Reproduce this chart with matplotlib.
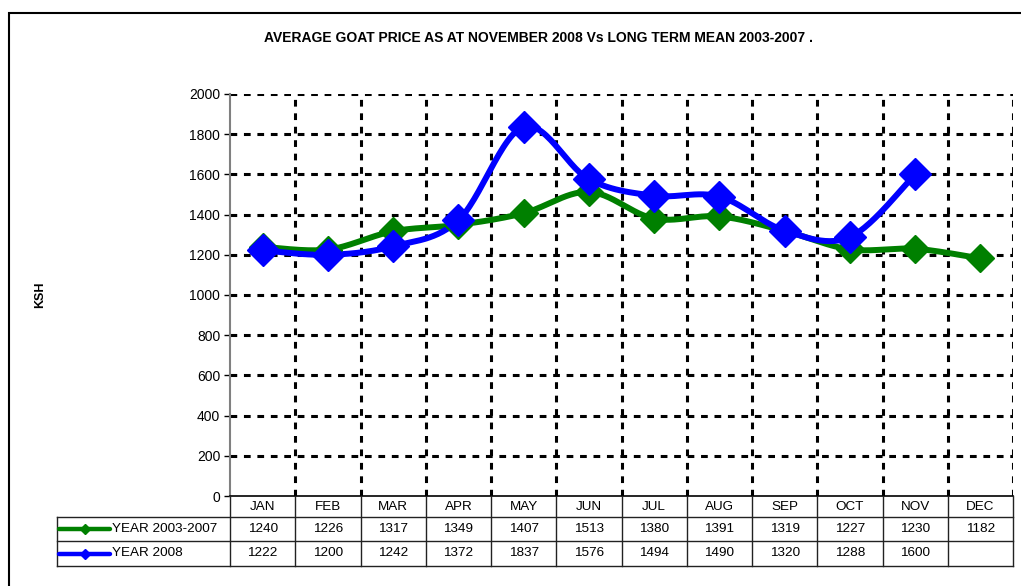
import matplotlib as mpl
mpl.use('Agg')
import matplotlib.pyplot as plt
import matplotlib.patches as mpatches
from matplotlib.lines import Line2D
import numpy as np

plt.rcParams['font.family'] = ['Liberation Sans', 'DejaVu Sans']

# ---------------------------------------------------------------- data
months    = ['JAN', 'FEB', 'MAR', 'APR', 'MAY', 'JUN', 'JUL', 'AUG', 'SEP', 'OCT', 'NOV', 'DEC']
mean_0307 = [1240, 1226, 1317, 1349, 1407, 1513, 1380, 1391, 1319, 1227, 1230, 1182]
year_2008 = [1222, 1200, 1242, 1372, 1837, 1576, 1494, 1490, 1320, 1288, 1600]
series_names  = ['YEAR 2003-2007', 'YEAR 2008']
series_colors = ['#008000', '#0000FF']
yticks = list(range(0, 2001, 200))

W, H = 1021, 586
def fx(px): return px / W
def fy(py): return 1 - py / H

#--------------------------------------------------------------------------------------------------
def smooth(xs, ys, sx, sy, n=30):
    # excel-like smoothed line (catmull-rom drawn as bezier), done in screen-ish units
    p = np.column_stack([np.asarray(xs, float) * sx, np.asarray(ys, float) * sy])
    out = [p[0]]
    for i in range(len(p) - 1):
        p0 = p[i - 1] if i > 0 else p[i]
        p1, p2 = p[i], p[i + 1]
        p3 = p[i + 2] if i + 2 < len(p) else p[i + 1]
        c1 = p1 + (p2 - p0) / 6.0
        c2 = p2 - (p3 - p1) / 6.0
        t = np.linspace(0, 1, n)[1:, None]
        seg = (1 - t)**3 * p1 + 3 * (1 - t)**2 * t * c1 + 3 * (1 - t) * t**2 * c2 + t**3 * p2
        out.extend(seg)
    out = np.array(out)
    return out[:, 0] / sx, out[:, 1] / sy

#--------------------------------------------------------------------------------------------------
fig = plt.figure(figsize=(W / 100, H / 100), dpi=100)
ax_l, ax_r, ax_t, ax_b = 230, 1013, 94, 496
ax = fig.add_axes([fx(ax_l), fy(ax_b), fx(ax_r - ax_l), fy(ax_t) - fy(ax_b)])

ax.set_xlim(0, 12)
ax.set_ylim(0, 2000)
ax.set_yticks(yticks)
ax.set_xticks(range(1, 13))
ax.tick_params(axis='x', length=0, labelbottom=False)
ax.tick_params(axis='y', length=4, width=1, direction='out', labelsize=10, pad=3, colors='black')
for s in ['top', 'right']:
    ax.spines[s].set_visible(False)
ax.spines['left'].set_color('#808080')
ax.spines['left'].set_linewidth(1.5)
ax.spines['bottom'].set_color('black')
ax.spines['bottom'].set_linewidth(1.2)

grid_kw = dict(color='black', linewidth=2.2, dashes=(2.2, 2.2), zorder=1)
for yv in yticks[1:]:
    ax.axhline(yv, **grid_kw)
for xv in range(1, 13):
    ax.axvline(xv, **grid_kw)

sx, sy = 783 / 12.0, 402 / 2000.0
for vals, col, ms in [(mean_0307, series_colors[0], 14), (year_2008, series_colors[1], 16)]:
    xs = np.arange(len(vals)) + 0.5
    cx, cy = smooth(xs, vals, sx, sy)
    ax.plot(cx, cy, color=col, linewidth=4.3, zorder=3, solid_capstyle='round')
    ax.plot(xs, vals, linestyle='none', marker='D', markersize=ms, color=col, zorder=4)

ax.set_ylabel('')
fig.text(fx(40), fy(295), 'KSH', rotation=90, ha='center', va='center', fontsize=9, fontweight='bold')
fig.text(fx(538), fy(38), 'AVERAGE GOAT PRICE AS AT NOVEMBER 2008 Vs LONG TERM MEAN 2003-2007 .',
         ha='center', va='center', fontsize=10, fontweight='bold')

# ---------------------------------------------------------------- data table under the plot
col_w = (ax_r - ax_l) / 12.0
rows_y = [496, 517, 541, 566]
leg_l = 57
tab_kw = dict(color='#222222', linewidth=1.0, transform=fig.transFigure)
for py in rows_y[1:]:
    fig.add_artist(Line2D([fx(leg_l), fx(ax_r)], [fy(py), fy(py)], **tab_kw))
fig.add_artist(Line2D([fx(leg_l), fx(leg_l)], [fy(rows_y[1]), fy(rows_y[3])], **tab_kw))
for i in range(13):
    px = ax_l + i * col_w
    fig.add_artist(Line2D([fx(px), fx(px)], [fy(rows_y[0]), fy(rows_y[3])], **tab_kw))

for i, m in enumerate(months):
    cxp = ax_l + (i + 0.5) * col_w
    fig.text(fx(cxp), fy((rows_y[0] + rows_y[1]) / 2), m, ha='center', va='center', fontsize=9.7)
    for r, vals in enumerate([mean_0307, year_2008]):
        if i < len(vals):
            fig.text(fx(cxp), fy((rows_y[r + 1] + rows_y[r + 2]) / 2), str(vals[i]),
                     ha='center', va='center', fontsize=9.7)

for r, (name, col) in enumerate(zip(series_names, series_colors)):
    yc = fy((rows_y[r + 1] + rows_y[r + 2]) / 2)
    fig.add_artist(Line2D([fx(59), fx(110)], [yc, yc], color=col, linewidth=3.2,
                          transform=fig.transFigure, solid_capstyle='round'))
    fig.add_artist(Line2D([fx(85)], [yc], color=col, marker='D', markersize=5,
                          transform=fig.transFigure))
    fig.text(fx(112), yc, name, ha='left', va='center', fontsize=9.7)

# outer frame (right/bottom run off the picture)
fig.add_artist(mpatches.Rectangle((fx(9), fy(H + 20)), 1.2, fy(13) - fy(H + 20), fill=False,
                                  edgecolor='black', linewidth=1.5, transform=fig.transFigure))

plt.savefig('out.png', dpi=100)
